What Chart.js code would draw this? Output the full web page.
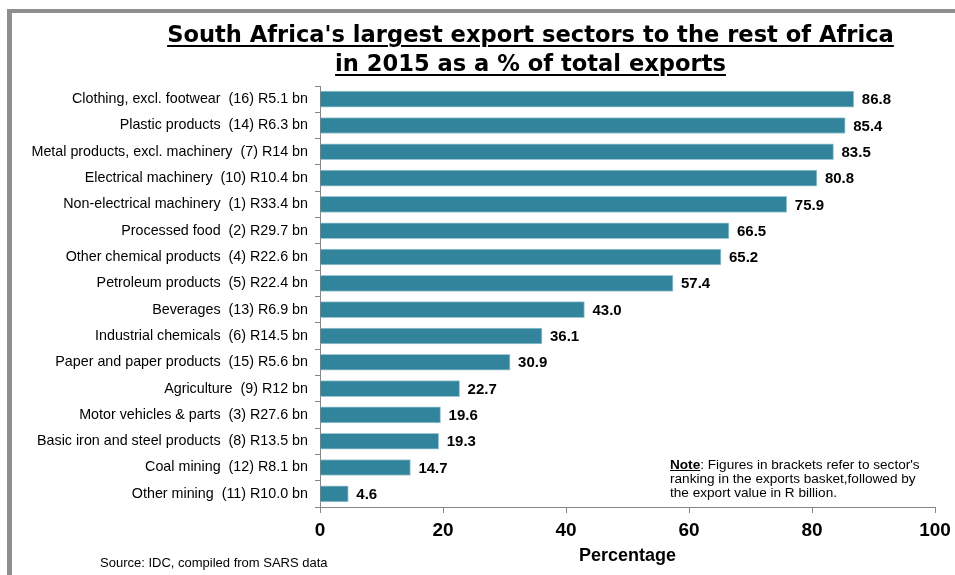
<!DOCTYPE html>
<html>
<head>
<meta charset="utf-8">
<script src="https://cdn.jsdelivr.net/npm/chart.js@4/dist/chart.umd.min.js"></script>
<style>
  html, body { margin:0; padding:0; background:#fff; }
  #wrap { position:relative; width:955px; height:575px; overflow:hidden; font-family:"Liberation Sans", Arial, sans-serif; }
  #frame { position:absolute; left:7px; top:9px; width:960px; height:580px; border-left:5px solid #8f8f8f; border-top:4px solid #8f8f8f; }
  #c { position:absolute; left:0; top:0; }
  .title { position:absolute; left:0; width:1061px; text-align:center; font-family:"DejaVu Sans", sans-serif; font-weight:bold; font-size:22.6px; text-decoration:underline; text-decoration-thickness:2px; text-underline-offset:3px; color:#000; white-space:nowrap; }
  #note { position:absolute; left:670px; top:458px; font-size:13.6px; line-height:14px; color:#000; white-space:nowrap; }
  #note b { font-weight:bold; text-decoration:underline; }
  #src { position:absolute; left:100px; top:555px; font-size:13px; color:#000; }
</style>
</head>
<body>
<div id="wrap">
  <div id="frame"></div>
  <canvas id="c" width="955" height="575"></canvas>
  <div class="title" style="top:21px">South Africa's largest export sectors to the rest of Africa</div>
  <div class="title" style="top:50px">in 2015 as a % of total exports</div>
  <div id="note"><b>Note</b>: Figures in brackets refer to sector's<br>ranking in the exports basket,followed by<br>the export value in R billion.</div>
  <div id="src">Source: IDC, compiled from SARS data</div>
</div>
<script>
const sectors = [
  "Clothing, excl. footwear", "Plastic products", "Metal products, excl. machinery",
  "Electrical machinery", "Non-electrical machinery", "Processed food",
  "Other chemical products", "Petroleum products", "Beverages",
  "Industrial chemicals", "Paper and paper products", "Agriculture",
  "Motor vehicles & parts", "Basic iron and steel products", "Coal mining", "Other mining"
];
const ranks = [16, 14, 7, 10, 1, 2, 4, 5, 13, 6, 15, 9, 3, 8, 12, 11];
const exportValues = ["R5.1", "R6.3", "R14", "R10.4", "R33.4", "R29.7", "R22.6", "R22.4",
  "R6.9", "R14.5", "R5.6", "R12", "R27.6", "R13.5", "R8.1", "R10.0"];
const shares = [86.8, 85.4, 83.5, 80.8, 75.9, 66.5, 65.2, 57.4, 43.0, 36.1, 30.9, 22.7, 19.6, 19.3, 14.7, 4.6];
const xTicks = [0, 20, 40, 60, 80, 100];

const categories = sectors.map((s, i) => `${s}  (${ranks[i]}) ${exportValues[i]} bn`);

const valueLabels = {
  id: 'valueLabels',
  afterDatasetsDraw(chart) {
    const ctx = chart.ctx;
    const meta = chart.getDatasetMeta(0);
    ctx.save();
    ctx.font = 'bold 15px "Liberation Sans", Arial, sans-serif';
    ctx.fillStyle = '#000';
    ctx.textAlign = 'left';
    ctx.textBaseline = 'middle';
    meta.data.forEach((bar, i) => {
      ctx.fillText(shares[i].toFixed(1), bar.x + 8, bar.y + 1);
    });
    ctx.restore();
  }
};

new Chart(document.getElementById('c'), {
  type: 'bar',
  data: {
    labels: categories,
    datasets: [{
      data: shares,
      backgroundColor: '#31849B',
      borderColor: '#9cc6d2',
      borderWidth: 1,
      barThickness: 16
    }]
  },
  options: {
    indexAxis: 'y',
    responsive: false,
    animation: false,
    layout: { padding: { top: 86, right: 20, left: 0, bottom: 0 } },
    plugins: { legend: { display: false }, tooltip: { enabled: false } },
    scales: {
      x: {
        min: 0, max: 100,
        afterBuildTicks(scale) { scale.ticks = xTicks.map(v => ({ value: v })); },
        afterFit(scale) { scale.height = 68; scale.paddingRight = 0; scale.paddingLeft = 0; },
        grid: { drawOnChartArea: false, drawTicks: true, tickLength: 6, color: '#868686' },
        border: { display: true, color: '#868686', width: 1 },
        ticks: { color: '#000', padding: 6, font: { family: '"Liberation Sans", Arial, sans-serif', size: 19, weight: 'bold' } },
        title: { display: true, text: 'Percentage', color: '#000', padding: { top: 4, bottom: 8 },
          font: { family: '"Liberation Sans", Arial, sans-serif', size: 18, weight: 'bold' } }
      },
      y: {
        afterFit(scale) { scale.width = 320; },
        grid: { drawOnChartArea: false, drawTicks: true, tickLength: 5, offset: true, color: '#868686' },
        border: { display: true, color: '#868686', width: 1 },
        ticks: { color: '#000', padding: 7, autoSkip: false, font: { family: '"Liberation Sans", Arial, sans-serif', size: 14.3 } }
      }
    }
  },
  plugins: [valueLabels]
});
</script>
</body>
</html>
